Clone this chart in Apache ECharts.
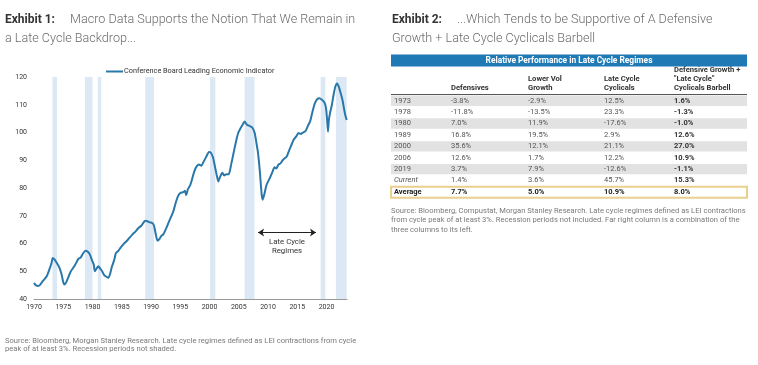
<!DOCTYPE html>
<html>
<head>
<meta charset="utf-8">
<script src="https://cdn.jsdelivr.net/npm/echarts@6/dist/echarts.min.js"></script>
<style>
html,body{margin:0;padding:0;background:#fff;}
#c{width:758px;height:365px;}
</style>
</head>
<body>
<div id="c"></div>
<script>
// ---------- Exhibit 1 data ----------
const leiSeriesName = 'Conference Board Leading Economic Indicator';
const leiYears = [1970.0,1970.3,1970.7,1971.0,1971.4,1971.8,1972.2,1972.6,1973.0,1973.2,1973.5,1973.9,1974.3,1974.7,1975.0,1975.2,1975.5,1975.9,1976.3,1976.8,1977.2,1977.6,1978.0,1978.4,1978.8,1979.2,1979.6,1979.9,1980.2,1980.4,1980.7,1981.0,1981.3,1981.6,1982.0,1982.4,1982.7,1983.0,1983.3,1983.7,1984.0,1984.4,1984.8,1985.3,1985.8,1986.3,1986.8,1987.3,1987.8,1988.3,1988.7,1989.0,1989.4,1989.8,1990.2,1990.5,1990.8,1991.1,1991.4,1991.8,1992.1,1992.5,1993.0,1993.4,1993.8,1994.2,1994.6,1995.0,1995.5,1995.8,1996.0,1996.3,1996.7,1997.0,1997.4,1997.8,1998.2,1998.6,1999.0,1999.5,1999.9,2000.2,2000.6,2000.9,2001.2,2001.5,2001.8,2002.2,2002.5,2002.9,2003.3,2003.7,2004.1,2004.5,2004.9,2005.3,2005.7,2006.0,2006.4,2006.9,2007.3,2007.7,2008.0,2008.3,2008.6,2008.9,2009.1,2009.4,2009.7,2010.0,2010.4,2010.8,2011.1,2011.4,2011.8,2012.1,2012.5,2012.9,2013.2,2013.6,2014.0,2014.4,2014.8,2015.2,2015.6,2016.0,2016.4,2016.8,2017.2,2017.6,2018.0,2018.4,2018.8,2019.2,2019.6,2019.9,2020.1,2020.25,2020.4,2020.6,2020.9,2021.2,2021.5,2021.8,2022.1,2022.4,2022.7,2023.0,2023.2,2023.45];
const leiValues = [45.8,45.0,44.7,45.0,46.2,47.2,48.3,50.5,53.0,54.8,54.3,53.0,51.5,49.0,46.0,45.2,46.0,48.0,50.0,51.5,53.0,54.5,55.0,56.5,57.4,57.0,55.8,54.0,52.5,50.0,51.0,51.8,51.0,50.2,48.6,48.0,47.6,49.0,51.5,54.0,56.5,57.3,58.5,59.8,60.8,62.0,63.2,64.2,65.5,66.3,67.5,68.2,68.0,67.6,67.4,66.5,63.5,61.0,61.5,62.8,63.3,65.0,67.5,69.5,71.5,74.5,77.0,78.2,78.5,79.0,77.5,79.5,81.0,83.0,86.0,87.8,88.5,88.0,89.5,91.5,93.0,92.8,91.0,88.0,85.0,82.3,84.0,85.5,84.5,85.0,85.0,88.5,92.5,96.5,99.8,101.5,103.0,104.0,102.8,102.3,101.8,100.0,96.5,92.5,86.0,78.0,75.8,78.0,80.8,82.3,84.0,86.0,87.5,87.0,88.5,88.8,90.0,90.8,91.3,93.5,95.5,97.5,98.5,99.8,99.5,100.0,100.5,102.3,104.0,107.5,110.5,112.0,112.3,111.8,111.0,109.0,104.5,100.3,104.5,107.0,109.8,113.5,116.5,117.7,116.5,114.3,112.0,108.5,106.3,104.5];
// late cycle regimes (shaded), start/end year
const regimeStarts = [1973.15,1978.7,1980.9,1989.0,2000.1,2006.0,2019.0,2021.6];
const regimeEnds   = [1973.95,1980.0,1981.5,1990.5,2001.0,2007.7,2019.8,2023.45];
const yTicks = [40,50,60,70,80,90,100,110,120];
const xTicks = [1970,1975,1980,1985,1990,1995,2000,2005,2010,2015,2020];

// ---------- Exhibit 2 data ----------
const tableTitle = 'Relative Performance in Late Cycle Regimes';
const colHeaders = [['Defensives'],['Lower Vol','Growth'],['Late Cycle','Cyclicals'],['Defensive Growth +','"Late Cycle"','Cyclicals Barbell']];
const rowLabels = ['1973','1978','1980','1989','2000','2006','2019','Current','Average'];
const defensives = [-3.8,-11.8,7.0,16.8,35.6,12.6,3.7,1.4,7.7];
const lowerVolGrowth = [-2.9,-13.5,11.9,19.5,12.1,1.7,7.9,3.6,5.0];
const lateCycleCyclicals = [12.5,23.3,-17.6,2.9,21.1,12.2,-12.6,45.7,10.9];
const barbell = [1.6,-1.3,-1.0,12.6,27.0,10.9,-1.1,15.3,8.0];

const FONT = 'Roboto, "Liberation Sans", sans-serif';
const chart = echarts.init(document.getElementById('c'), null, {renderer:'canvas'});

function txt(text, x, y, opts) {
  opts = opts || {};
  return {
    type:'text', silent:true,
    style: Object.assign({
      text:text, x:x, y:y,
      fontFamily:FONT, fontSize:opts.size||7, fontWeight:opts.weight||'normal',
      fontStyle:opts.style||'normal',
      fill:opts.color||'#444', textAlign:opts.align||'left', textVerticalAlign:'middle'
    }, opts.extra||{})
  };
}

const graphics = [];
// Titles
graphics.push(txt('Exhibit 1:', 5, 20, {size:12, weight:'bold', color:'#333'}));
graphics.push(txt('Macro Data Supports the Notion That We Remain in', 70, 20, {size:12.6, weight:300, color:'#6b6b6b'}));
graphics.push(txt('a Late Cycle Backdrop...', 5, 39, {size:12.6, weight:300, color:'#6b6b6b'}));
graphics.push(txt('Exhibit 2:', 392, 20, {size:12, weight:'bold', color:'#333'}));
graphics.push(txt('...Which Tends to be Supportive of A Defensive', 457, 20, {size:12.6, weight:300, color:'#6b6b6b'}));
graphics.push(txt('Growth + Late Cycle Cyclicals Barbell', 392, 39, {size:12.6, weight:300, color:'#6b6b6b'}));

// Source notes
graphics.push(txt('Source: Bloomberg, Morgan Stanley Research. Late cycle regimes defined as LEI contractions from cycle', 5, 341, {size:7.6, color:'#7a7a7a'}));
graphics.push(txt('peak of at least 3%. Recession periods not shaded.', 5, 349, {size:7.6, color:'#7a7a7a'}));
graphics.push(txt('Source: Bloomberg, Compustat, Morgan Stanley Research. Late cycle regimes defined as LEI contractions', 391, 211, {size:7.6, color:'#7a7a7a'}));
graphics.push(txt('from cycle peak of at least 3%. Recession periods not included. Far right column is a combination of the', 391, 220.5, {size:7.6, color:'#7a7a7a'}));
graphics.push(txt('three columns to its left.', 391, 230, {size:7.6, color:'#7a7a7a'}));

// Table
const tL = 391, tR = 747, rowH = 11.41, row0 = 100.7;
const colX = [394, 451, 528, 604, 674];
graphics.push({type:'rect', silent:true, shape:{x:tL, y:54.5, width:tR-tL, height:12}, style:{fill:'#1f79b5'}});
graphics.push(txt(tableTitle, (tL+tR)/2, 60.5, {size:8.4, weight:'bold', color:'#fff', align:'center'}));
// row backgrounds
for (let i = 0; i < rowLabels.length; i++) {
  const yc = row0 + i*rowH;
  if (i % 2 === 0 && i < 7) {
    graphics.push({type:'rect', silent:true, shape:{x:tL, y:yc-rowH/2+0.5, width:tR-tL, height:rowH-1}, style:{fill:'#e2e2e2'}});
  }
}
graphics.push({type:'line', silent:true, shape:{x1:tL, y1:94.5, x2:tR, y2:94.5}, style:{stroke:'#555', lineWidth:1}});
// headers
const headerLineY = [70, 79.5, 88.5];
colHeaders.forEach((lines, ci) => {
  const off = 3 - lines.length;
  lines.forEach((ln, li) => {
    graphics.push(txt(ln, colX[ci+1], headerLineY[off+li], {size:7.6, weight:'bold', color:'#333'}));
  });
});
const fmt = v => v.toFixed(1) + '%';
const TS = 7.5;
for (let i = 0; i < rowLabels.length; i++) {
  const yc = row0 + i*rowH;
  const isAvg = rowLabels[i] === 'Average';
  const isCur = rowLabels[i] === 'Current';
  const w = isAvg ? 'bold' : 'normal';
  const c = isAvg ? '#222' : '#555';
  graphics.push(txt(rowLabels[i], colX[0], yc, {size:TS, weight:w, color:c, style:isCur?'italic':'normal'}));
  graphics.push(txt(fmt(defensives[i]), colX[1], yc, {size:TS, weight:w, color:c}));
  graphics.push(txt(fmt(lowerVolGrowth[i]), colX[2], yc, {size:TS, weight:w, color:c}));
  graphics.push(txt(fmt(lateCycleCyclicals[i]), colX[3], yc, {size:TS, weight:w, color:c}));
  graphics.push(txt(fmt(barbell[i]), colX[4], yc, {size:TS, weight:'bold', color:isAvg?'#222':'#333'}));
}
const avgY = row0 + 8*rowH;
graphics.push({type:'rect', silent:true, shape:{x:tL, y:avgY-rowH/2+0.5, width:tR-tL, height:rowH-0.5}, style:{fill:'none', stroke:'#ead08f', lineWidth:2}});

const regimeAreas = regimeStarts.map((s, i) => [{xAxis:s}, {xAxis:regimeEnds[i]}]);

const option = {
  animation:false,
  textStyle:{fontFamily:FONT},
  legend:{
    data:[leiSeriesName], left:101, top:63, itemWidth:17, itemHeight:2, itemGap:2,
    icon:'rect',
    textStyle:{fontSize:7.3, color:'#333', fontFamily:FONT, padding:[0,0,0,-4]}
  },
  grid:{left:34, top:77, width:313, height:222, containLabel:false},
  xAxis:{
    type:'value', min:1970, max:2023.5, interval:5,
    axisLine:{show:true, lineStyle:{color:'#9a9a9a', width:1}},
    axisTick:{show:false}, splitLine:{show:false},
    axisLabel:{fontSize:7, color:'#333', margin:5, showMaxLabel:false,
      formatter: v => (xTicks.indexOf(v) >= 0 ? String(v) : '')}
  },
  yAxis:{
    type:'value', min:yTicks[0], max:yTicks[yTicks.length-1], interval:10,
    axisLine:{show:false}, axisTick:{show:false}, splitLine:{show:false},
    axisLabel:{fontSize:7, color:'#333', margin:7}
  },
  series:[{
    name:leiSeriesName, type:'line', symbol:'none', smooth:0.2,
    data: leiYears.map((y, i) => [y, leiValues[i]]),
    lineStyle:{color:'#2a78aa', width:2},
    itemStyle:{color:'#2a78aa'},
    markArea:{silent:true, itemStyle:{color:'#dde8f5'}, data:regimeAreas},
    markLine:{silent:true, symbol:['arrow','arrow'], symbolSize:[6,6],
      lineStyle:{color:'#222', width:1, type:'solid'}, label:{show:false},
      data:[[{coord:[2008.3,64]},{coord:[2018.2,64]}]]}
  }],
  graphic: graphics
};
chart.setOption(option);

const p1 = chart.convertToPixel({gridIndex:0}, [2013.25, 64]);
chart.setOption({graphic: graphics.concat([
  txt('Late Cycle', p1[0], p1[1]+9.5, {size:7.8, color:'#333', align:'center'}),
  txt('Regimes', p1[0], p1[1]+19, {size:7.8, color:'#333', align:'center'})
])});
</script>
</body>
</html>
